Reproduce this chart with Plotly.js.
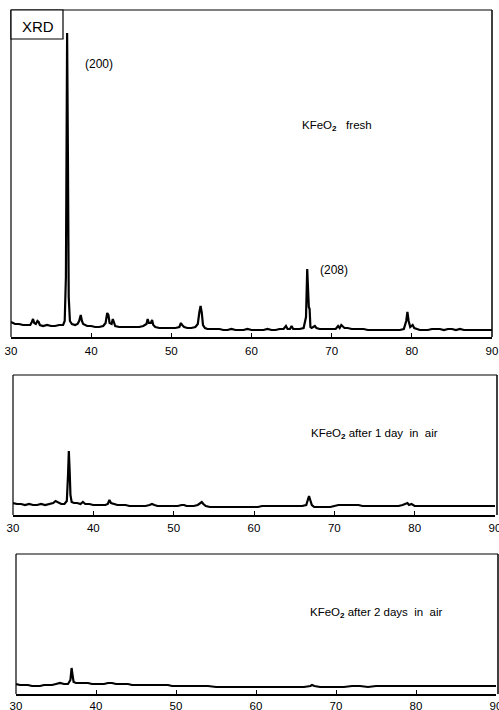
<!DOCTYPE html>
<html>
<head>
<meta charset="utf-8">
<script src="https://cdn.plot.ly/plotly-3.0.1.min.js"></script>
<style>
  html, body { margin: 0; padding: 0; background: #fff; }
  #chart { width: 499px; height: 710px; }
</style>
</head>
<body>
<div id="chart"></div>
<script>
// XRD patterns of KFeO2: fresh, after 1 day and after 2 days in air.
// 2-theta (degrees) and intensity (arbitrary units) for each pattern.
const twoThetaFresh = [30.0, 30.5, 31.0, 31.5, 32.0, 32.4, 32.6, 32.75, 32.9, 33.1, 33.3, 33.45, 33.6, 34.0, 34.5, 35.0, 35.5, 36.0, 36.5, 36.7, 36.85, 36.95, 37.0, 37.1, 37.2, 37.35, 37.6, 38.0, 38.3, 38.5, 38.7, 38.85, 39.0, 39.5, 40.0, 40.5, 41.0, 41.5, 41.8, 42.0, 42.15, 42.3, 42.55, 42.7, 42.85, 43.0, 43.5, 44.0, 44.5, 45.0, 45.5, 46.0, 46.5, 46.9, 47.05, 47.2, 47.45, 47.6, 47.75, 48.0, 48.5, 49.0, 49.5, 50.0, 50.5, 51.0, 51.2, 51.35, 51.6, 52.0, 52.5, 53.0, 53.3, 53.5, 53.65, 53.8, 53.95, 54.2, 54.5, 55.0, 55.5, 56.0, 56.5, 57.0, 57.5, 58.0, 58.5, 59.0, 59.5, 60.0, 60.5, 61.0, 61.5, 62.0, 62.5, 63.0, 63.5, 64.0, 64.3, 64.5, 64.8, 65.0, 65.2, 65.5, 66.0, 66.5, 66.8, 66.95, 67.05, 67.15, 67.25, 67.35, 67.5, 67.9, 68.1, 68.5, 69.0, 69.5, 70.0, 70.5, 70.8, 71.0, 71.2, 71.4, 71.6, 72.0, 72.5, 73.0, 73.5, 74.0, 74.5, 75.0, 75.5, 76.0, 76.5, 77.0, 77.5, 78.0, 78.5, 79.0, 79.3, 79.45, 79.6, 79.8, 80.1, 80.3, 80.6, 81.0, 81.5, 82.0, 82.5, 83.0, 83.5, 84.0, 84.5, 85.0, 85.5, 86.0, 86.5, 87.0, 87.5, 88.0, 88.5, 89.0, 89.5, 90.0];
const intensityFresh = [15, 13, 13, 12, 12, 12, 15, 18, 14, 13, 16, 15, 12, 11, 12, 11, 11, 12, 12, 16, 60, 250, 304, 180, 40, 16, 13, 12, 13, 16, 22, 16, 13, 11, 11, 10, 10, 11, 14, 24, 22, 14, 13, 18, 14, 11, 10, 10, 10, 10, 10, 10, 11, 13, 18, 14, 14, 17, 12, 10, 9, 9, 9, 9, 9, 10, 14, 12, 10, 9, 9, 10, 13, 25, 31, 24, 12, 9, 8, 8, 8, 8, 7, 7, 8, 7, 7, 7, 8, 7, 7, 7, 7, 8, 7, 7, 8, 8, 11, 8, 8, 11, 8, 8, 8, 9, 20, 68, 45, 30, 28, 10, 9, 11, 9, 8, 8, 8, 8, 8, 11, 9, 12, 10, 9, 9, 8, 8, 8, 8, 7, 7, 7, 7, 7, 7, 7, 7, 7, 8, 16, 25, 16, 10, 12, 9, 8, 7, 7, 7, 8, 8, 8, 7, 8, 8, 7, 8, 7, 7, 7, 7, 7, 7, 7, 7];

const twoTheta1Day = [30.0, 30.5, 31.0, 31.5, 32.0, 32.5, 33.0, 33.5, 34.0, 34.5, 35.0, 35.3, 35.6, 36.0, 36.4, 36.7, 36.85, 36.95, 37.05, 37.15, 37.3, 37.6, 38.0, 38.4, 38.7, 39.0, 39.5, 40.0, 40.5, 41.0, 41.5, 41.8, 42.0, 42.2, 42.5, 43.0, 43.5, 44.0, 44.5, 45.0, 45.5, 46.0, 46.5, 47.0, 47.3, 47.6, 48.0, 48.5, 49.0, 49.5, 50.0, 50.5, 51.0, 51.3, 51.6, 52.0, 52.5, 53.0, 53.3, 53.5, 53.7, 54.0, 54.5, 55.0, 55.5, 56.0, 56.5, 57.0, 57.5, 58.0, 58.5, 59.0, 59.5, 60.0, 60.5, 61.0, 61.5, 62.0, 62.5, 63.0, 63.5, 64.0, 64.5, 65.0, 65.5, 66.0, 66.5, 66.7, 66.85, 67.0, 67.2, 67.5, 68.0, 68.5, 69.0, 69.5, 70.0, 70.5, 71.0, 71.5, 72.0, 72.5, 73.0, 73.5, 74.0, 74.5, 75.0, 75.5, 76.0, 76.5, 77.0, 77.5, 78.0, 78.5, 78.9, 79.1, 79.3, 79.6, 80.0, 80.5, 81.0, 81.5, 82.0, 82.5, 83.0, 83.5, 84.0, 84.5, 85.0, 85.5, 86.0, 86.5, 87.0, 87.5, 88.0, 88.5, 89.0, 89.5, 90.0];
const intensity1Day = [12, 11, 11, 10, 11, 10, 10, 11, 10, 11, 12, 14, 13, 11, 11, 14, 40, 64, 45, 20, 13, 12, 12, 11, 13, 11, 11, 10, 10, 10, 10, 11, 15, 12, 11, 10, 10, 10, 9, 9, 9, 9, 9, 10, 11, 10, 9, 9, 9, 9, 9, 9, 10, 10, 9, 9, 9, 10, 12, 13, 11, 9, 8, 8, 8, 8, 8, 8, 8, 8, 8, 8, 8, 8, 8, 9, 9, 9, 9, 9, 9, 9, 9, 9, 9, 9, 10, 14, 19, 15, 10, 8, 8, 8, 8, 8, 9, 10, 10, 10, 10, 10, 10, 9, 9, 9, 9, 9, 9, 9, 9, 9, 9, 10, 11, 12, 10, 11, 9, 9, 9, 9, 9, 9, 9, 9, 9, 9, 9, 9, 9, 9, 9, 9, 9, 9, 9, 9, 9];

const twoTheta2Days = [30.0, 30.5, 31.0, 31.5, 32.0, 32.5, 33.0, 33.5, 34.0, 34.5, 35.0, 35.5, 36.0, 36.5, 36.8, 36.95, 37.05, 37.2, 37.5, 38.0, 38.5, 39.0, 39.5, 40.0, 40.5, 41.0, 41.5, 42.0, 42.5, 43.0, 43.5, 44.0, 44.5, 45.0, 45.5, 46.0, 46.5, 47.0, 47.5, 48.0, 48.5, 49.0, 49.5, 50.0, 50.5, 51.0, 52.0, 53.0, 54.0, 55.0, 56.0, 57.0, 58.0, 59.0, 60.0, 61.0, 62.0, 63.0, 64.0, 65.0, 66.0, 66.8, 67.0, 67.3, 68.0, 69.0, 70.0, 71.0, 72.0, 73.0, 74.0, 75.0, 76.0, 77.0, 78.0, 79.0, 80.0, 81.0, 82.0, 83.0, 84.0, 85.0, 86.0, 87.0, 88.0, 89.0, 90.0];
const intensity2Days = [10, 9, 9, 9, 8, 8, 8, 9, 9, 9, 10, 11, 10, 10, 14, 26, 20, 12, 11, 11, 11, 11, 10, 10, 10, 10, 11, 11, 10, 10, 10, 10, 9, 9, 9, 9, 9, 9, 9, 9, 9, 9, 8, 8, 8, 8, 8, 8, 8, 7, 7, 7, 7, 7, 7, 7, 7, 7, 7, 7, 7, 8, 9, 8, 7, 7, 7, 7, 8, 8, 7, 8, 8, 8, 8, 8, 8, 8, 8, 8, 8, 8, 8, 8, 8, 8, 8];

const tickValues = [30, 40, 50, 60, 70, 80, 90];
const tickLabels = ['30', '40', '50', '60', '70', '80', '90'];

// page geometry helpers (pixel -> paper fraction)
const W = 499, H = 710;
const px = x => x / W;
const py = y => 1 - y / H;

const lineStyle = { color: '#000', width: 2.2 };
const traces = [
  { x: twoThetaFresh, y: intensityFresh, xaxis: 'x', yaxis: 'y', mode: 'lines', line: lineStyle, hoverinfo: 'skip' },
  { x: twoTheta1Day, y: intensity1Day, xaxis: 'x2', yaxis: 'y2', mode: 'lines', line: lineStyle, hoverinfo: 'skip' },
  { x: twoTheta2Days, y: intensity2Days, xaxis: 'x3', yaxis: 'y3', mode: 'lines', line: lineStyle, hoverinfo: 'skip' }
];

const tickFont = { family: 'Liberation Sans, Arial, sans-serif', size: 11.5, color: '#000' };
function xAxis(domain, anchor, standoff) {
  return {
    domain: domain, anchor: anchor, range: [30, 90], tickmode: 'array',
    tickvals: tickValues, ticktext: tickLabels, ticks: 'inside', ticklen: 4,
    tickwidth: 1, tickcolor: '#000', showline: true, linecolor: '#000', linewidth: 2,
    showgrid: false, zeroline: false, tickfont: tickFont, ticklabelstandoff: standoff,
    ticklabeloverflow: 'allow', fixedrange: true
  };
}
function yAxis(domain, anchor, top) {
  return {
    domain: domain, anchor: anchor, range: [0, top], showticklabels: false, ticks: '',
    showline: false, showgrid: false, zeroline: false, fixedrange: true
  };
}

// panel frames in pixels: [left, top, right, bottom]
const frames = [[11, 10, 492, 337], [13, 375, 497, 515], [16, 554, 498, 694]];
const shapes = [];
frames.forEach(f => {
  shapes.push({ type: 'line', xref: 'paper', yref: 'paper', x0: px(f[0]), x1: px(f[2]), y0: py(f[1]), y1: py(f[1]), line: { color: '#000', width: 1.2 } });
  shapes.push({ type: 'line', xref: 'paper', yref: 'paper', x0: px(f[0]), x1: px(f[0]), y0: py(f[1]), y1: py(f[3]), line: { color: '#000', width: 1.2 } });
  shapes.push({ type: 'line', xref: 'paper', yref: 'paper', x0: px(f[2]), x1: px(f[2]), y0: py(f[1]), y1: py(f[3]), line: { color: '#000', width: 1.5 } });
});
// "XRD" label box
shapes.push({ type: 'rect', xref: 'paper', yref: 'paper', x0: px(11), x1: px(63), y0: py(39), y1: py(10), line: { color: '#000', width: 1.2 }, fillcolor: '#fff' });

const annFont = { family: 'Liberation Sans, Arial, sans-serif', size: 11.5, color: '#000' };
const sub2 = 'KFeO<sub><b>2</b></sub>';
const annotations = [
  { text: 'XRD', x: px(38), y: py(27), xanchor: 'center', font: { family: 'Liberation Sans, Arial, sans-serif', size: 15, color: '#000' } },
  { text: '(200)', x: px(83), y: py(64), xanchor: 'left', font: Object.assign({}, annFont, { size: 12 }) },
  { text: sub2 + '\u00a0\u00a0 fresh', x: px(300), y: py(126), xanchor: 'left', font: annFont },
  { text: '(208)', x: px(318), y: py(270), xanchor: 'left', font: Object.assign({}, annFont, { size: 12 }) },
  { text: sub2 + ' after 1 day \u00a0in \u00a0air', x: px(309), y: py(434), xanchor: 'left', font: annFont },
  { text: sub2 + ' after 2 days \u00a0in \u00a0air', x: px(308), y: py(613), xanchor: 'left', font: annFont }
].map(a => Object.assign({ xref: 'paper', yref: 'paper', showarrow: false, yanchor: 'middle' }, a));

const layout = {
  width: W, height: H, margin: { l: 0, r: 0, t: 0, b: 0 },
  paper_bgcolor: '#fff', plot_bgcolor: 'rgba(0,0,0,0)', showlegend: false,
  xaxis: xAxis([px(11), px(492)], 'y', 2),
  yaxis: yAxis([py(337), py(10)], 'x', 327),
  xaxis2: xAxis([px(13), px(495)], 'y2', 1),
  yaxis2: yAxis([py(515), py(375)], 'x2', 140),
  xaxis3: xAxis([px(16), px(496)], 'y3', 0),
  yaxis3: yAxis([py(694), py(554)], 'x3', 140),
  shapes: shapes, annotations: annotations
};

Plotly.newPlot('chart', traces, layout, { staticPlot: true, displayModeBar: false });
</script>
</body>
</html>
